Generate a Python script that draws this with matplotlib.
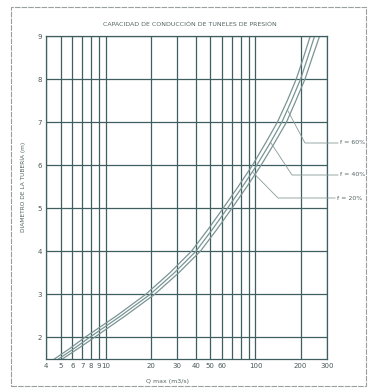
import matplotlib

matplotlib.use("Agg")
import matplotlib.pyplot as plt
import numpy as np
from matplotlib.lines import Line2D
from matplotlib.patches import Rectangle

diam = [1.5, 1.75, 2, 2.5, 3, 3.5, 4, 4.5, 5, 5.5, 6, 6.5, 7, 7.5, 8, 8.5, 9]
q_left = [4.55, 5.8, 7.25, 11.8, 18.5, 26.8, 37.3, 48, 60.8, 76.5, 95.5, 116, 140, 163, 187, 209, 232]
q_mid = [4.85, 6.2, 7.8, 12.6, 19.8, 28.7, 40, 51.3, 65, 81.8, 102, 124.5, 150, 174, 200, 223, 248]
q_right = [5.15, 6.6, 8.4, 13.5, 21.2, 30.7, 42.8, 55, 69.6, 87.5, 109, 133, 161, 186, 214, 239, 268]
curve_labels = ["f = 60%", "f = 40%", "f = 20%"]
label_diam = [7.28, 6.53, 5.84]  # where each leader touches the curves

x_grid = [4, 5, 6, 7, 8, 9, 10, 20, 30, 40, 50, 60, 70, 80, 90, 100, 200, 300]
x_ticks = [4, 5, 6, 7, 8, 9, 10, 20, 30, 40, 50, 60, 100, 200, 300]
y_ticks = [2, 3, 4, 5, 6, 7, 8, 9]

grid_col = "#3f5e60"
curve_col = "#7a9494"
text_col = "#556464"

W, H = 370, 388
fig = plt.figure(figsize=(W / 100, H / 100), dpi=100)
ax = fig.add_axes([46 / W, 1 - 359 / H, 281 / W, 323 / H])

# outer frame
fig.patches.append(Rectangle((11 / W, 2 / H), 355 / W, 379 / H, transform=fig.transFigure,
                             fill=False, ec="#9aa0a0", lw=0.8, ls=(0, (5, 1))))

ax.set_xscale("log")
ax.set_xlim(4, 300)
ax.set_ylim(1.5, 9)

for xv in x_grid:
    ax.axvline(xv, color=grid_col, lw=0.9, zorder=1)
for yv in y_ticks:
    ax.axhline(yv, color=grid_col, lw=0.9, zorder=1)

for q in (q_left, q_mid, q_right):
    ax.plot(q, diam, color=curve_col, lw=0.9, zorder=2, solid_joinstyle="round")

ax.set_xticks(x_ticks)
ax.set_xticklabels([str(v) for v in x_ticks])
ax.xaxis.set_minor_locator(matplotlib.ticker.NullLocator())
ax.set_yticks(y_ticks)
ax.tick_params(length=0, labelsize=5, labelcolor="#4a5858", pad=3)
for s in ax.spines.values():
    s.set_color(grid_col)
    s.set_linewidth(0.9)

# leader lines: curve point -> elbow -> horizontal to label (pixel offsets)
elbows = [(305, 143), (292, 175), (278, 198)]
text_x = [340, 340, 337]
for lab, d, (ex, ey), tx in zip(curve_labels, label_diam, elbows, text_x):
    qp = np.interp(d, diam, q_mid)
    px, py = ax.transData.transform((qp, d))
    xs = [px / W, ex / W, (tx - 2) / W]
    ys = [py / H, 1 - ey / H, 1 - ey / H]
    fig.lines.append(Line2D(xs, ys, transform=fig.transFigure, color="#8a9a9a", lw=0.6))
    fig.text(tx / W, 1 - ey / H, lab, fontsize=4.5, color=text_col, ha="left", va="center")

fig.text(190 / W, 1 - 24 / H, "CAPACIDAD DE CONDUCCIÓN DE TUNELES DE PRESIÓN",
         fontsize=4.5, color=text_col, ha="center", va="center")
fig.text(168 / W, 1 - 382 / H, "Q max (m3/s)", fontsize=4.5, color=text_col,
         ha="center", va="center")
fig.text(23 / W, 1 - 187 / H, "DIAMETRO DE LA TUBERÍA (m)", fontsize=4.2,
         color=text_col, ha="center", va="center", rotation=90)

fig.savefig("out.png", dpi=100)
